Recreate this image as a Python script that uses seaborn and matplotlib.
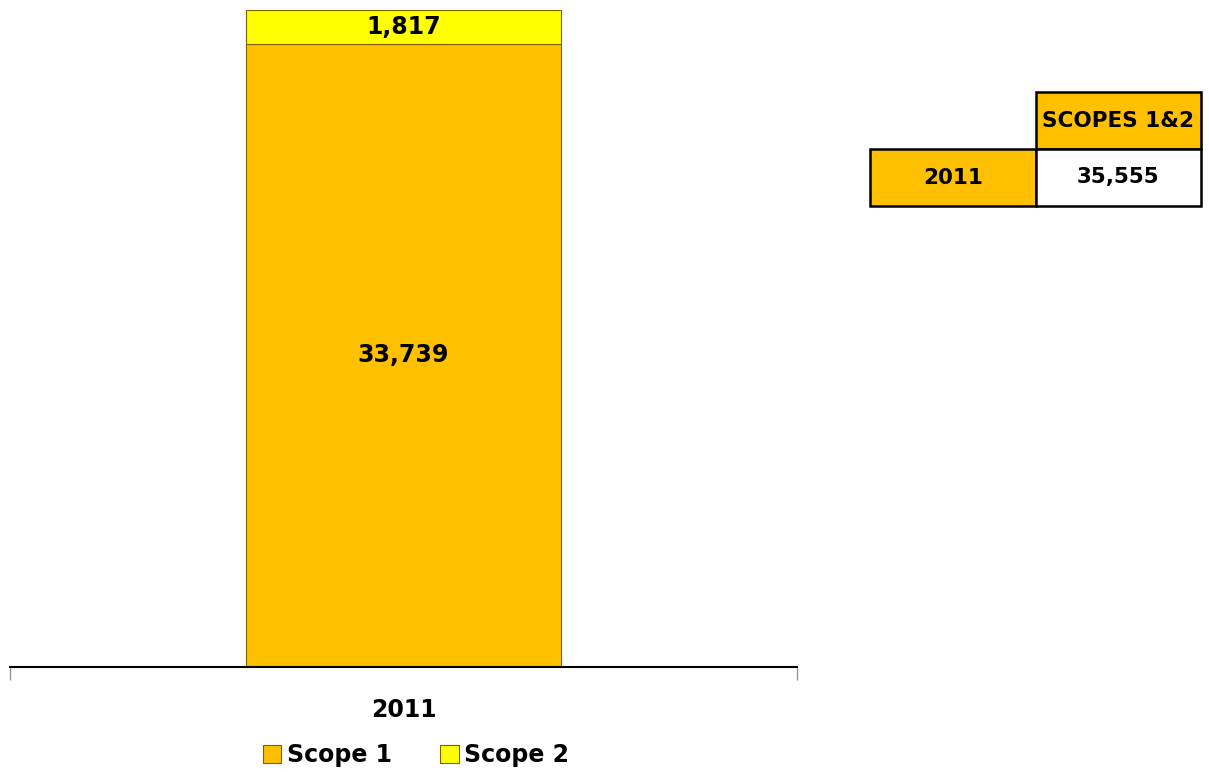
import seaborn as sns
import matplotlib.pyplot as plt
import pandas as pd

# data
years = ["2011"]
scope1 = [33739]
scope2 = [1817]
table_header = "SCOPES 1&2"
table_total = ["35,555"]

df = pd.DataFrame({"year": years, "scope1": scope1, "scope2": scope2})

sns.set_style("white")
plt.rcParams["font.family"] = ["DejaVu Sans"]
plt.rcParams["font.weight"] = "bold"
plt.rcParams["text.color"] = "black"
plt.rcParams["xtick.color"] = "black"

fig = plt.figure(figsize=(12.09, 7.72), dpi=100)
ax = fig.add_axes([10 / 1209, 1 - 667 / 772, 787 / 1209, 659 / 772])

edge = "#7f6000"
sns.barplot(data=df, x="year", y="scope1", color="#FFC000", width=0.4,
            edgecolor=edge, linewidth=0.8, saturation=1, ax=ax, label="Scope 1")
sns.barplot(data=df, x="year", y="scope2", bottom=df["scope1"], color="#FFFF00",
            width=0.4, edgecolor=edge, linewidth=0.8, saturation=1, ax=ax,
            label="Scope 2")

# value labels
for i, row in df.iterrows():
    ax.text(i, row.scope1 / 2, f"{row.scope1:,}", ha="center", va="center",
            fontsize=17, fontweight="bold", color="black")
    ax.text(i, row.scope1 + row.scope2 / 2, f"{row.scope2:,}", ha="center",
            va="center", fontsize=17, fontweight="bold", color="black")

ax.set_xlim(-0.5, len(years) - 0.5)
ax.set_ylim(0, 35664)
ax.set_xlabel("")
ax.set_ylabel("")
ax.set_yticks([])
for s in ["top", "right", "left"]:
    ax.spines[s].set_visible(False)
ax.spines["bottom"].set_color("black")
ax.spines["bottom"].set_linewidth(1.5)
ax.tick_params(axis="x", which="major", length=0, pad=22, labelsize=17,
               labelcolor="black")
ax.set_xticks([x - 0.5 for x in range(len(years) + 1)], minor=True)
ax.tick_params(axis="x", which="minor", bottom=True, length=9, color="#999999",
               width=1, direction="out")
for lbl in ax.get_xticklabels():
    lbl.set_fontweight("bold")

if ax.get_legend():
    ax.get_legend().remove()
handles, labels = ax.get_legend_handles_labels()
leg = fig.legend(handles, labels, loc="center", bbox_to_anchor=(416 / 1209, 1 - 755 / 772),
                 ncol=2, frameon=False, handlelength=0.8, handleheight=0.8,
                 handletextpad=0.25, columnspacing=2.0,
                 prop={"size": 17, "weight": "bold"})
for t in leg.get_texts():
    t.set_color("black")

# summary table
tax = fig.add_axes([870 / 1209, 1 - 206 / 772, 331 / 1209, 114 / 772])
tax.axis("off")
cells = [["", table_header]] + [[y, t] for y, t in zip(years, table_total)]
tbl = tax.table(cellText=cells, bbox=[0, 0, 1, 1], cellLoc="center")
tbl.auto_set_font_size(False)
for (r, c), cell in tbl.get_celld().items():
    cell.set_linewidth(1.8)
    cell.set_edgecolor("black")
    cell.get_text().set_fontsize(15.5)
    cell.get_text().set_fontweight("bold")
    cell.get_text().set_color("black")
    if r == 0 and c == 0:
        cell.set_linewidth(0)
        cell.set_facecolor("none")
    elif r == 0 or c == 0:
        cell.set_facecolor("#FFC000")
    else:
        cell.set_facecolor("white")

fig.savefig("out.png", dpi=100)
